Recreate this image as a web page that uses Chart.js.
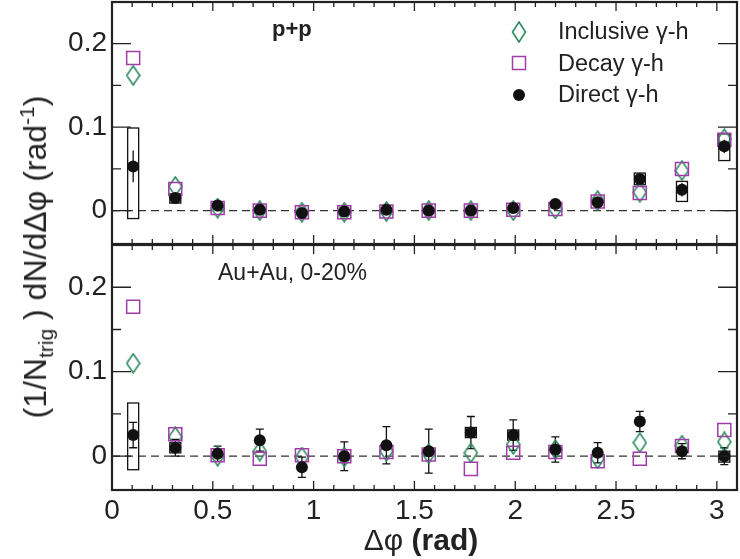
<!DOCTYPE html>
<html>
<head>
<meta charset="utf-8">
<script src="https://cdn.jsdelivr.net/npm/chart.js@4/dist/chart.umd.min.js"></script>
<style>
  body { margin: 0; background: #fff; width: 740px; height: 559px; position: relative; overflow: hidden;
         font-family: "Liberation Sans", Arial, sans-serif; color: #222; }
  canvas { position: absolute; left: 0; }
  #cTop { top: 0; }
  #cBot { top: 244px; }
  .lbl { position: absolute; white-space: nowrap; line-height: 1; }
  .leg { position: absolute; left: 509px; font-size: 23.5px; line-height: 1; }
  .leg div { height: 31.5px; display: flex; align-items: center; }
  .leg svg { width: 20px; height: 22px; margin-right: 29px; }
</style>
</head>
<body>
<canvas id="cTop" width="740" height="245"></canvas>
<canvas id="cBot" width="740" height="315"></canvas>

<div class="lbl" style="left:272px;top:18px;font-size:22px;font-weight:bold">p+p</div>
<div class="lbl" style="left:218px;top:261px;font-size:23px">Au+Au, 0-20%</div>

<div class="leg" style="top:16px">
  <div><svg viewBox="0 0 20 22"><polygon points="10,1 16.5,11 10,21 3.5,11" fill="none" stroke="#2e8b60" stroke-width="1.6"/></svg>Inclusive &gamma;-h</div>
  <div><svg viewBox="0 0 20 22"><rect x="3.5" y="4.5" width="13" height="13" fill="none" stroke="#a03ca6" stroke-width="1.5"/></svg>Decay &gamma;-h</div>
  <div><svg viewBox="0 0 20 22"><circle cx="10" cy="11" r="6" fill="#111"/></svg>Direct &gamma;-h</div>
</div>

<div class="lbl" style="left:36px;top:257px;font-size:32px;transform:translate(-50%,-50%) rotate(-90deg)">(1/N<sub style="font-size:21px">trig</sub> ) dN/d&Delta;&phi; (rad<sup style="font-size:21px">-1</sup>)</div>
<div class="lbl" style="left:421px;top:540px;font-size:30px;transform:translate(-50%,-50%)">&Delta;&phi; <b>(rad)</b></div>

<script>
// bin centres (rad)
const xBins = [0.105, 0.314, 0.524, 0.733, 0.942, 1.152, 1.361, 1.571, 1.780, 1.990, 2.199, 2.409, 2.618, 2.827, 3.037]

// p+p
const ppInclusive = [0.162, 0.029, 0.003, 0.000, -0.002, -0.002, -0.001, 0.000, 0.000, 0.000, 0.002, 0.012, 0.022, 0.048, 0.086]
const ppDecay = [0.183, 0.026, 0.003, 0.000, -0.002, -0.002, -0.001, 0.000, 0.000, 0.001, 0.002, 0.011, 0.021, 0.050, 0.085]
const ppDirect = [0.053, 0.015, 0.006, 0.001, -0.003, -0.001, 0.001, 0.000, 0.000, 0.003, 0.008, 0.010, 0.038, 0.025, 0.077]
const ppDirectErr = [0.019, 0.004, 0.003, 0.003, 0.003, 0.003, 0.003, 0.003, 0.003, 0.003, 0.003, 0.004, 0.005, 0.008, 0.008]
const ppSysLo = [-0.0095, 0.009, null, null, null, null, null, null, null, null, null, null, 0.031, 0.011, 0.060]
const ppSysHi = [0.099, 0.020, null, null, null, null, null, null, null, null, null, null, 0.045, 0.035, 0.092]

// Au+Au 0-20%
const auInclusive = [0.110, 0.023, 0.000, 0.006, -0.001, -0.001, 0.006, 0.003, 0.004, 0.014, 0.008, -0.003, 0.016, 0.013, 0.017]
const auDecay = [0.177, 0.026, 0.001, -0.003, 0.001, 0.000, 0.005, 0.002, -0.015, 0.004, 0.005, -0.006, -0.003, 0.012, 0.031]
const auDirect = [0.025, 0.010, 0.003, 0.019, -0.013, 0.000, 0.013, 0.006, 0.028, 0.025, 0.008, 0.004, 0.041, 0.006, 0.000]
const auDirectErr = [0.015, 0.010, 0.009, 0.013, 0.012, 0.017, 0.022, 0.026, 0.019, 0.018, 0.015, 0.012, 0.012, 0.009, 0.010]
const auSysLo = [-0.016, 0.004, null, null, null, null, null, null, 0.022, 0.019, null, null, null, null, -0.007]
const auSysHi = [0.063, 0.016, null, null, null, null, null, null, 0.034, 0.031, null, null, null, null, 0.006]

const xTickLabels = [0, 0.5, 1, 1.5, 2, 2.5, 3]
const yTickLabels = [0, 0.1, 0.2]

const GREEN = "#2e8b60"
const PURPLE = "#a03ca6"
const INK = "#222"

const makeDiamond = () => {
  const c = document.createElement("canvas")
  c.width = 15
  c.height = 21
  const g = c.getContext("2d")
  g.strokeStyle = GREEN
  g.lineWidth = 1.6
  g.beginPath()
  g.moveTo(7.5, 1)
  g.lineTo(14, 10.5)
  g.lineTo(7.5, 20)
  g.lineTo(1, 10.5)
  g.closePath()
  g.stroke()
  return c
}
const diamond = makeDiamond()

const toPts = (ys) => xBins.map((x, i) => ({ x, y: ys[i] }))

const noPad = (s) => {
  s.paddingTop = 0
  s.paddingBottom = 0
  s.paddingLeft = 0
  s.paddingRight = 0
}

// inward ticks, frame, zero line, error bars
const framePlugin = {
  id: "frame",
  afterDraw(chart) {
    const { ctx, chartArea: a, scales } = chart
    const xs = scales.x
    const ys = scales.y
    ctx.save()
    ctx.strokeStyle = INK
    ctx.lineWidth = 1.3
    for (let i = 0; i <= 31; i++) {
      const v = i / 10
      const px = xs.getPixelForValue(v)
      if (px > a.right - 1) continue
      const len = i % 5 === 0 ? 9 : 5
      ctx.beginPath()
      ctx.moveTo(px, a.top); ctx.lineTo(px, a.top + len)
      ctx.moveTo(px, a.bottom); ctx.lineTo(px, a.bottom - len)
      ctx.stroke()
    }
    for (let i = -1; i <= 4; i++) {
      const v = i * 0.05
      const py = ys.getPixelForValue(v)
      if (py < a.top + 1 || py > a.bottom - 1) continue
      const len = i % 2 === 0 ? 19 : 9
      ctx.beginPath()
      ctx.moveTo(a.left, py); ctx.lineTo(a.left + len, py)
      ctx.moveTo(a.right, py); ctx.lineTo(a.right - len, py)
      ctx.stroke()
    }
    ctx.lineWidth = 2.2
    ctx.strokeRect(a.left, a.top, a.right - a.left, a.bottom - a.top)
    ctx.restore()
  },
  beforeDatasetsDraw(chart, args, opts) {
    const { ctx, chartArea: a, scales } = chart
    const xs = scales.x
    const ys = scales.y
    ctx.save()
    const y0 = ys.getPixelForValue(0)
    ctx.strokeStyle = "#333"
    ctx.lineWidth = 1.2
    ctx.setLineDash([8, 5])
    ctx.beginPath()
    ctx.moveTo(a.left, y0); ctx.lineTo(a.right, y0)
    ctx.stroke()
    ctx.setLineDash([])
    ctx.strokeStyle = "#111"
    opts.y.forEach((v, i) => {
      const px = xs.getPixelForValue(xBins[i])
      if (opts.lo[i] !== null) {
        const top = ys.getPixelForValue(opts.hi[i])
        const bot = ys.getPixelForValue(opts.lo[i])
        ctx.lineWidth = 1.3
        ctx.strokeRect(px - 5.5, top, 11, bot - top)
      }
      const e = opts.err[i]
      const yt = ys.getPixelForValue(v + e)
      const yb = ys.getPixelForValue(v - e)
      ctx.lineWidth = 1.3
      ctx.beginPath()
      ctx.moveTo(px, yt); ctx.lineTo(px, yb)
      if (opts.caps) {
        ctx.moveTo(px - 4, yt); ctx.lineTo(px + 4, yt)
        ctx.moveTo(px - 4, yb); ctx.lineTo(px + 4, yb)
      }
      ctx.stroke()
    })
    ctx.restore()
  }
}

const buildPanel = (canvas, incl, decay, direct, err, lo, hi, isBottom) => {
  return new Chart(canvas.getContext("2d"), {
    type: "scatter",
    data: {
      datasets: [
        { data: toPts(direct), pointStyle: "circle", pointRadius: 6, backgroundColor: "#111", borderColor: "#111", borderWidth: 0 },
        { data: toPts(decay), pointStyle: "rect", pointRadius: 9.2, backgroundColor: "rgba(0,0,0,0)", borderColor: PURPLE, borderWidth: 1.5 },
        { data: toPts(incl), pointStyle: diamond, pointRadius: 10 }
      ]
    },
    options: {
      responsive: false,
      animation: false,
      events: [],
      clip: false,
      layout: {
        autoPadding: false,
        padding: { top: isBottom ? 1 : 2, right: 3, bottom: isBottom ? 0 : 1, left: 0 }
      },
      plugins: {
        legend: { display: false },
        tooltip: { enabled: false },
        frame: { y: direct, err, lo, hi, caps: isBottom }
      },
      scales: {
        x: {
          type: "linear",
          min: 0,
          max: 3.1,
          display: isBottom,
          grid: { display: false, drawTicks: false },
          border: { display: false },
          afterBuildTicks: (s) => { s.ticks = xTickLabels.map((v) => ({ value: v })) },
          afterFit: (s) => {
            if (isBottom) s.height = 69
            noPad(s)
          },
          ticks: { padding: 4, color: INK, font: { family: "Liberation Sans", size: 28 }, maxRotation: 0, callback: (v) => String(v) }
        },
        y: {
          min: -0.04,
          max: 0.25,
          grid: { display: false, drawTicks: false },
          border: { display: false },
          afterBuildTicks: (s) => { s.ticks = yTickLabels.map((v) => ({ value: v })) },
          afterFit: (s) => {
            s.width = 112
            noPad(s)
          },
          ticks: { padding: 5, color: INK, font: { family: "Liberation Sans", size: 28 }, callback: (v) => String(v) }
        }
      }
    },
    plugins: [framePlugin]
  })
}

buildPanel(document.getElementById("cTop"), ppInclusive, ppDecay, ppDirect, ppDirectErr, ppSysLo, ppSysHi, false)
buildPanel(document.getElementById("cBot"), auInclusive, auDecay, auDirect, auDirectErr, auSysLo, auSysHi, true)
</script>
</body>
</html>
